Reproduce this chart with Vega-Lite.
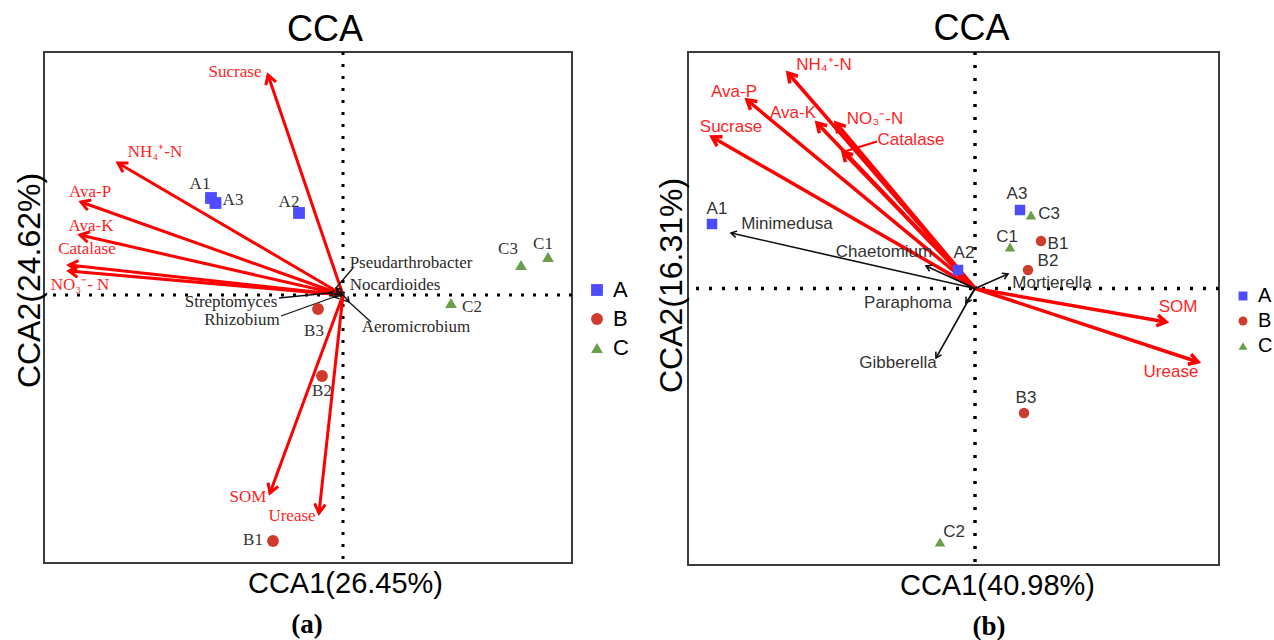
{
"$schema":"https://vega.github.io/schema/vega-lite/v6.json",
"background":"white",
"padding":{"left":12,"top":10,"right":0,"bottom":0},
"spacing":24,
"datasets":{
"siteA":[
{"id":"A1","group":"A","x":-1.32,"y":0.97,"lx":-1.43,"ly":1.11},
{"id":"A2","group":"A","x":-0.44,"y":0.82,"lx":-0.54,"ly":0.93},
{"id":"A3","group":"A","x":-1.275,"y":0.92,"lx":-1.10,"ly":0.95},
{"id":"B1","group":"B","x":-0.70,"y":-2.46,"lx":-0.90,"ly":-2.45},
{"id":"B2","group":"B","x":-0.21,"y":-0.81,"lx":-0.21,"ly":-0.96},
{"id":"B3","group":"B","x":-0.25,"y":-0.14,"lx":-0.29,"ly":-0.36},
{"id":"C1","group":"C","x":2.05,"y":0.38,"lx":2.00,"ly":0.51},
{"id":"C2","group":"C","x":1.08,"y":-0.08,"lx":1.29,"ly":-0.12},
{"id":"C3","group":"C","x":1.78,"y":0.30,"lx":1.65,"ly":0.46}
],
"envA":[
{"id":"Sucrase","x":-0.75,"y":2.20,"lx":-1.08,"ly":2.23},
{"id":"NH₄⁺-N","x":-2.25,"y":1.32,"lx":-1.88,"ly":1.43},
{"id":"Ava-P","x":-2.62,"y":0.93,"lx":-2.53,"ly":1.03},
{"id":"Ava-K","x":-2.63,"y":0.60,"lx":-2.52,"ly":0.69},
{"id":"Catalase","x":-2.74,"y":0.30,"lx":-2.56,"ly":0.46},
{"id":"NO₃⁻- N","x":-2.74,"y":0.24,"lx":-2.63,"ly":0.10},
{"id":"SOM","x":-0.73,"y":-1.98,"lx":-0.95,"ly":-2.02},
{"id":"Urease","x":-0.24,"y":-2.18,"lx":-0.51,"ly":-2.21}
],
"spA":[
{"id":"Pseudarthrobacter","x":-0.07,"y":0.07,"ex":0.10,"ey":0.27,"lx":0.68,"ly":0.32},
{"id":"Nocardioides","x":-0.04,"y":0.03,"ex":-0.04,"ey":0.03,"lx":0.52,"ly":0.10},
{"id":"Streptomyces","x":-0.14,"y":0.02,"ex":-0.64,"ey":-0.03,"lx":-1.12,"ly":-0.07},
{"id":"Rhizobium","x":-0.09,"y":-0.02,"ex":-0.62,"ey":-0.21,"lx":-1.01,"ly":-0.25},
{"id":"Aeromicrobium","x":0.06,"y":-0.07,"ex":0.28,"ey":-0.27,"lx":0.73,"ly":-0.32}
],
"siteB":[
{"id":"A1","group":"A","x":-2.63,"y":0.645,"lx":-2.58,"ly":0.795},
{"id":"A2","group":"A","x":-0.17,"y":0.185,"lx":-0.11,"ly":0.355},
{"id":"A3","group":"A","x":0.45,"y":0.785,"lx":0.42,"ly":0.945},
{"id":"B1","group":"B","x":0.66,"y":0.475,"lx":0.83,"ly":0.445},
{"id":"B2","group":"B","x":0.53,"y":0.185,"lx":0.73,"ly":0.275},
{"id":"B3","group":"B","x":0.49,"y":-1.245,"lx":0.51,"ly":-1.095},
{"id":"C1","group":"C","x":0.35,"y":0.415,"lx":0.32,"ly":0.515},
{"id":"C2","group":"C","x":-0.35,"y":-2.535,"lx":-0.21,"ly":-2.435},
{"id":"C3","group":"C","x":0.56,"y":0.735,"lx":0.74,"ly":0.745}
],
"envB":[
{"id":"NH₄⁺-N","x":-1.87,"y":2.155,"lx":-1.51,"ly":2.235,"ex":-1.87,"ey":2.155},
{"id":"Ava-P","x":-2.28,"y":1.885,"lx":-2.41,"ly":1.965,"ex":-2.28,"ey":1.885},
{"id":"Ava-K","x":-1.58,"y":1.655,"lx":-1.82,"ly":1.755,"ex":-1.58,"ey":1.655},
{"id":"NO₃⁻-N","x":-1.39,"y":1.655,"lx":-1.00,"ly":1.695,"ex":-1.39,"ey":1.655},
{"id":"Catalase","x":-1.32,"y":1.365,"lx":-0.64,"ly":1.485,"ex":-0.98,"ey":1.47},
{"id":"Sucrase","x":-2.63,"y":1.515,"lx":-2.44,"ly":1.615,"ex":-2.63,"ey":1.515},
{"id":"SOM","x":1.91,"y":-0.335,"lx":2.03,"ly":-0.185,"ex":1.91,"ey":-0.335},
{"id":"Urease","x":2.23,"y":-0.735,"lx":1.96,"ly":-0.835,"ex":2.23,"ey":-0.735}
],
"spB":[
{"id":"Minimedusa","x":-2.44,"y":0.555,"lx":-1.88,"ly":0.645},
{"id":"Chaetomium","x":-0.49,"y":0.225,"lx":-0.91,"ly":0.365},
{"id":"Mortierella","x":0.33,"y":0.145,"lx":0.77,"ly":0.055},
{"id":"Paraphoma","x":-0.09,"y":-0.145,"lx":-0.67,"ly":-0.145},
{"id":"Gibberella","x":-0.39,"y":-0.695,"lx":-0.77,"ly":-0.745}
]
},
"hconcat":[
{"title":{"text":"(a)","orient":"bottom","font":"Liberation Serif","fontWeight":"bold","fontSize":27,"offset":13,"anchor":"middle","dx":-14},
 "resolve":{"scale":{"color":"independent","shape":"independent"},"legend":{"color":"independent","shape":"independent"}},
 "vconcat":[
 {"width":528,"height":511,"title":{"text":"CCA","dx":17},
  "layer":[
   {"data":{"name":"siteA"},"mark":{"type":"point","filled":true,"opacity":0,"size":1},
    "encoding":{
     "x":{"field":"x","type":"quantitative","scale":{"domain":[-2.99,2.29],"nice":false,"zero":false},"axis":{"title":"CCA1(26.45%)","titleX":301,"titleY":20}},
     "y":{"field":"y","type":"quantitative","scale":{"domain":[-2.68,2.43],"nice":false,"zero":false},"axis":{"title":"CCA2(24.62%)","titleX":-15,"titleY":228,"titleFontSize":32}}}},
   {"data":{"values":[{}]},"mark":{"type":"rule","strokeDash":[3,9],"strokeWidth":3,"color":"#000"},"encoding":{"x":{"datum":0,"type":"quantitative"}}},
   {"data":{"values":[{}]},"mark":{"type":"rule","strokeDash":[3,9],"strokeWidth":3,"color":"#000"},"encoding":{"y":{"datum":0,"type":"quantitative"}}},
   {"data":{"name":"envA"},"mark":{"type":"rule","color":"#FF0000","strokeWidth":3},
    "encoding":{"x":{"field":"x","type":"quantitative"},"y":{"field":"y","type":"quantitative"},"x2":{"datum":0},"y2":{"datum":0}}},
   {"data":{"name":"envA"},"mark":{"type":"point","shape":"M -0.6 1 L 0 0 L 0.6 1","filled":false,"color":"#FF0000","strokeWidth":3,"size":324,"opacity":1,"angle":{"expr":"atan2(datum.x, datum.y) * 180 / PI"}},
    "encoding":{"x":{"field":"x","type":"quantitative"},"y":{"field":"y","type":"quantitative"}}},
   {"data":{"name":"envA"},"mark":{"type":"text","font":"Liberation Serif","fontSize":17,"color":"#FF1F1F","baseline":"middle","align":"center"},
    "encoding":{"x":{"field":"lx","type":"quantitative"},"y":{"field":"ly","type":"quantitative"},"text":{"field":"id"}}},
   {"data":{"name":"spA"},"mark":{"type":"rule","color":"#111","strokeWidth":1.5},
    "encoding":{"x":{"field":"x","type":"quantitative"},"y":{"field":"y","type":"quantitative"},"x2":{"datum":0},"y2":{"datum":0}}},
   {"data":{"name":"spA"},"mark":{"type":"rule","color":"#111","strokeWidth":1.3},
    "encoding":{"x":{"field":"x","type":"quantitative"},"y":{"field":"y","type":"quantitative"},"x2":{"field":"ex"},"y2":{"field":"ey"}}},
   {"data":{"name":"spA"},"mark":{"type":"point","shape":"M -0.6 1 L 0 0 L 0.6 1","filled":false,"color":"#111","strokeWidth":1.5,"size":100,"opacity":1,"angle":{"expr":"atan2(datum.x, datum.y) * 180 / PI"}},
    "encoding":{"x":{"field":"x","type":"quantitative"},"y":{"field":"y","type":"quantitative"}}},
   {"data":{"name":"spA"},"mark":{"type":"text","font":"Liberation Serif","fontSize":17,"color":"#2a2a2a","baseline":"middle","align":"center"},
    "encoding":{"x":{"field":"lx","type":"quantitative"},"y":{"field":"ly","type":"quantitative"},"text":{"field":"id"}}},
   {"data":{"name":"siteA"},"mark":{"type":"point","filled":true,"opacity":1,"size":140},
    "encoding":{
     "x":{"field":"x","type":"quantitative"},
     "y":{"field":"y","type":"quantitative"},
     "color":{"field":"group","type":"nominal","scale":{"domain":["A","B","C"],"range":["#4D4DFF","#CF3B2C","#6B9E4A"]},"legend":{"title":null,"orient":"none","legendX":542,"legendY":227,"symbolSize":140,"labelFontSize":22,"labelFont":"Liberation Sans","labelColor":"#000","labelOffset":5,"rowPadding":7,"padding":0,"symbolStrokeWidth":0}},
     "shape":{"field":"group","type":"nominal","scale":{"domain":["A","B","C"],"range":["square","circle","triangle-up"]},"legend":{"title":null,"orient":"none","legendX":542,"legendY":227,"symbolSize":140,"labelFontSize":22,"labelFont":"Liberation Sans","labelColor":"#000","labelOffset":5,"rowPadding":7,"padding":0,"symbolStrokeWidth":0}}}},
   {"data":{"name":"siteA"},"mark":{"type":"text","font":"Liberation Serif","fontSize":17,"color":"#333","baseline":"middle","align":"center"},
    "encoding":{"x":{"field":"lx","type":"quantitative"},"y":{"field":"ly","type":"quantitative"},"text":{"field":"id"}}}
  ]}
 ]},
{"title":{"text":"(b)","orient":"bottom","font":"Liberation Serif","fontWeight":"bold","fontSize":27,"offset":13,"anchor":"middle","dx":25},
 "resolve":{"scale":{"color":"independent","shape":"independent"},"legend":{"color":"independent","shape":"independent"}},
 "vconcat":[
 {"width":531,"height":513,"title":{"text":"CCA","dx":18},
  "layer":[
   {"data":{"name":"siteB"},"mark":{"type":"point","filled":true,"opacity":0,"size":1},
    "encoding":{
     "x":{"field":"x","type":"quantitative","scale":{"domain":[-2.87,2.44],"nice":false,"zero":false},"axis":{"title":"CCA1(40.98%)","titleX":309,"titleY":20}},
     "y":{"field":"y","type":"quantitative","scale":{"domain":[-2.765,2.365],"nice":false,"zero":false},"axis":{"title":"CCA2(16.31%)","titleX":-17,"titleY":233,"titleFontSize":32}}}},
   {"data":{"values":[{}]},"mark":{"type":"rule","strokeDash":[3,10],"strokeWidth":3.5,"color":"#000"},"encoding":{"x":{"datum":0,"type":"quantitative"}}},
   {"data":{"values":[{}]},"mark":{"type":"rule","strokeDash":[3,10],"strokeWidth":3.5,"color":"#000"},"encoding":{"y":{"datum":0,"type":"quantitative"}}},
   {"data":{"name":"envB"},"mark":{"type":"rule","color":"#FF0000","strokeWidth":3.5},
    "encoding":{"x":{"field":"x","type":"quantitative"},"y":{"field":"y","type":"quantitative"},"x2":{"datum":0},"y2":{"datum":0}}},
   {"data":{"name":"envB"},"mark":{"type":"rule","color":"#FF0000","strokeWidth":2},
    "encoding":{"x":{"field":"x","type":"quantitative"},"y":{"field":"y","type":"quantitative"},"x2":{"field":"ex"},"y2":{"field":"ey"}}},
   {"data":{"name":"envB"},"mark":{"type":"point","shape":"M -0.6 1 L 0 0 L 0.6 1","filled":false,"color":"#FF0000","strokeWidth":3.5,"size":324,"opacity":1,"angle":{"expr":"atan2(datum.x, datum.y) * 180 / PI"}},
    "encoding":{"x":{"field":"x","type":"quantitative"},"y":{"field":"y","type":"quantitative"}}},
   {"data":{"name":"envB"},"mark":{"type":"text","font":"Liberation Sans","fontSize":17,"color":"#FF1F1F","baseline":"middle","align":"center"},
    "encoding":{"x":{"field":"lx","type":"quantitative"},"y":{"field":"ly","type":"quantitative"},"text":{"field":"id"}}},
   {"data":{"name":"spB"},"mark":{"type":"rule","color":"#111","strokeWidth":1.6},
    "encoding":{"x":{"field":"x","type":"quantitative"},"y":{"field":"y","type":"quantitative"},"x2":{"datum":0},"y2":{"datum":0}}},
   {"data":{"name":"spB"},"mark":{"type":"point","shape":"M -0.6 1 L 0 0 L 0.6 1","filled":false,"color":"#111","strokeWidth":1.6,"size":120,"opacity":1,"angle":{"expr":"atan2(datum.x, datum.y) * 180 / PI"}},
    "encoding":{"x":{"field":"x","type":"quantitative"},"y":{"field":"y","type":"quantitative"}}},
   {"data":{"name":"spB"},"mark":{"type":"text","font":"Liberation Sans","fontSize":17,"color":"#333","baseline":"middle","align":"center"},
    "encoding":{"x":{"field":"lx","type":"quantitative"},"y":{"field":"ly","type":"quantitative"},"text":{"field":"id"}}},
   {"data":{"name":"siteB"},"mark":{"type":"point","filled":true,"opacity":1,"size":110},
    "encoding":{
     "x":{"field":"x","type":"quantitative"},
     "y":{"field":"y","type":"quantitative"},
     "color":{"field":"group","type":"nominal","scale":{"domain":["A","B","C"],"range":["#4D4DFF","#CF3B2C","#6B9E4A"]},"legend":{"title":null,"orient":"none","legendX":545,"legendY":234,"symbolSize":80,"labelFontSize":20,"labelFont":"Liberation Sans","labelColor":"#000","labelOffset":5,"rowPadding":5,"padding":0,"symbolStrokeWidth":0}},
     "shape":{"field":"group","type":"nominal","scale":{"domain":["A","B","C"],"range":["square","circle","triangle-up"]},"legend":{"title":null,"orient":"none","legendX":545,"legendY":234,"symbolSize":80,"labelFontSize":20,"labelFont":"Liberation Sans","labelColor":"#000","labelOffset":5,"rowPadding":5,"padding":0,"symbolStrokeWidth":0}}}},
   {"data":{"name":"siteB"},"mark":{"type":"text","font":"Liberation Sans","fontSize":17,"color":"#333","baseline":"middle","align":"center"},
    "encoding":{"x":{"field":"lx","type":"quantitative"},"y":{"field":"ly","type":"quantitative"},"text":{"field":"id"}}}
  ]}
 ]}
],
"resolve":{"scale":{"color":"independent","shape":"independent"},"legend":{"color":"independent","shape":"independent"}},
"config":{
 "view":{"stroke":"#3C3C3C","strokeWidth":2},
 "axis":{"grid":false,"ticks":false,"labels":false,"domain":false,"titleFont":"Liberation Sans","titleFontSize":29,"titleFontWeight":"normal","titleColor":"#000","titleBaseline":"middle","titleAlign":"center"},
 "title":{"font":"Liberation Sans","fontSize":36,"fontWeight":"normal","color":"#000","offset":2,"anchor":"middle"}
}
}
